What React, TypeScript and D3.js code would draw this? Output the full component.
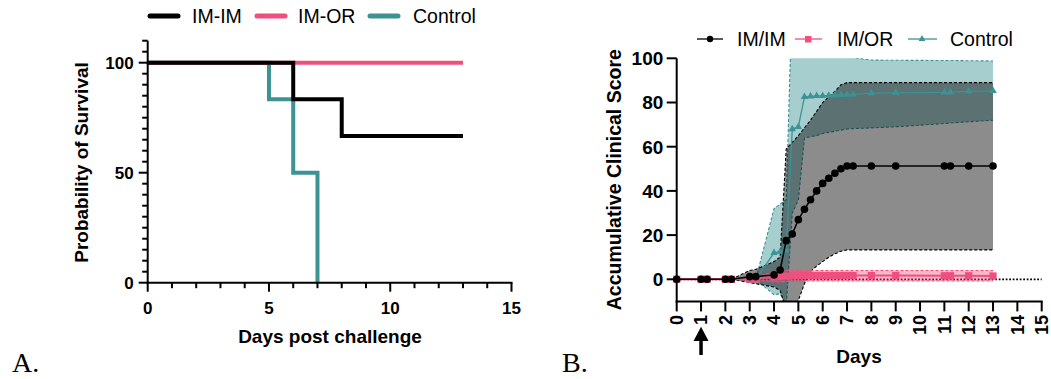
import React from 'react';
import * as d3 from 'd3';

// ---------- Panel A: survival ----------
const survLabels = ['IM-IM', 'IM-OR', 'Control'];
const survImImDays = [0, 6, 8, 13];
const survImImPct = [100, 83.33, 66.67, 66.67];
const survImOrDays = [0, 13];
const survImOrPct = [100, 100];
const survCtrlDays = [0, 5, 6, 7];
const survCtrlPct = [100, 83.33, 50, 0];
const survXTicks = [0, 5, 10, 15];
const survYTicks = [0, 50, 100];

// ---------- Panel B: clinical score ----------
const scoreLabels = ['IM/IM', 'IM/OR', 'Control'];
const days = [0, 1, 1.25, 2, 2.25, 3, 3.25, 4, 4.25, 4.5, 4.75, 5, 5.25, 5.5, 5.75, 6, 6.25, 6.5, 6.75, 7, 7.25, 8, 9, 11, 11.25, 12, 13];
const imImMean = [0, 0, 0, 0, 0, 1.2, 1.2, 2, 4.2, 17.5, 20.5, 27, 31.7, 36, 40, 43.4, 45.7, 48, 50, 51.3, 51.3, 51.3, 51.3, 51.3, 51.3, 51.3, 51.3];
const imImUpper = [0, 0, 0, 0, 0, 4, 4.5, 8, 10, 59, 62, 65, 68.5, 72, 76, 80, 82.5, 85, 88, 89, 89, 89, 89, 89, 89, 89, 89];
const imImLower = [0, 0, 0, 0, 0, -1.5, -2, -3.5, -5, -14, -14, -9.5, -2, 3.5, 6, 8, 10, 11.5, 12.7, 13.3, 13.3, 13.3, 13.3, 13.3, 13.3, 13.3, 13.3];
const imOrMean = [0, 0, 0, 0, 0, 0, 0.3, 1, 1.2, 1.4, 1.5, 1.6, 1.7, 1.7, 1.7, 1.7, 1.7, 1.7, 1.7, 1.7, 1.7, 1.7, 1.7, 1.6, 1.6, 1.6, 1.5];
const imOrUpper = [0, 0, 0, 0, 0, 0, 1, 3.5, 3.8, 4, 4, 4, 4, 4, 4, 4, 4, 4, 4, 4, 4, 4, 4, 4, 4, 4, 4];
const imOrLower = [0, 0, 0, 0, 0, 0, -0.4, -1.2, -1.2, -1, -1, -0.9, -0.8, -0.8, -0.8, -0.8, -0.8, -0.8, -0.8, -0.8, -0.8, -0.8, -0.8, -0.8, -0.8, -0.8, -0.8];
const ctrlMean = [0, 0, 0, 0, 0, 0, 0, 12, 12.5, 13, 68, 69, 82.6, 82.8, 83, 83, 83.2, 83.4, 83.5, 83.6, 83.7, 84.2, 84.4, 84.6, 84.7, 85, 85.3];
const ctrlUpper = [0, 0, 0, 0, 0, 0, 0, 32, 34, 36, 130, 102, 101, 101, 101, 101, 101, 101, 101, 100.5, 100.3, 99.2, 99.1, 99, 99, 98.9, 98.8];
const ctrlLower = [0, 0, 0, 0, 0, 0, 0, -7, -6.5, -12, 30, 36, 64, 64.6, 65, 66, 66.5, 67, 67.5, 68, 68.2, 68.5, 69, 70.5, 70.7, 71.3, 72];
const scoreYTicks = [0, 20, 40, 60, 80, 100];
const scoreXTicks = d3.range(0, 16);
const arrowDay = 1;

const BLACK = '#000000';
const PINK = '#EF4F7E';
const TEAL = '#3C9294';
const SANS = '"Liberation Sans", Arial, Helvetica, sans-serif';
const SERIF = '"Liberation Serif", "Times New Roman", serif';

type Pt = { t: number; v: number };
const zip = (ts: number[], vs: number[]): Pt[] => ts.map((t, i) => ({ t, v: vs[i] }));
type Band = { t: number; lo: number; hi: number };
const band = (lo: number[], hi: number[]): Band[] => days.map((t, i) => ({ t, lo: lo[i], hi: hi[i] }));

const SurvivalPanel: React.FC = () => {
  const x = d3.scaleLinear().domain([0, 15]).range([147.7, 511.5]);
  const y = d3.scaleLinear().domain([0, 110]).range([282.7, 40.7]);
  const step = d3.line<Pt>().x(d => x(d.t)).y(d => y(d.v)).curve(d3.curveStepAfter);
  const series = [
    { name: survLabels[2], color: TEAL, pts: zip(survCtrlDays, survCtrlPct) },
    { name: survLabels[1], color: PINK, pts: zip(survImOrDays, survImOrPct) },
    { name: survLabels[0], color: BLACK, pts: zip(survImImDays, survImImPct) },
  ];
  const minorY = d3.range(0, 111, 5).filter(v => !survYTicks.includes(v));
  const minorX = d3.range(0, 16, 1).filter(v => !survXTicks.includes(v));
  const legend = [
    { name: survLabels[0], color: BLACK, x0: 150, tx: 192 },
    { name: survLabels[1], color: PINK, x0: 257, tx: 298 },
    { name: survLabels[2], color: TEAL, x0: 370, tx: 413 },
  ];
  return (
    <g fontFamily={SANS}>
      {legend.map(l => (
        <g key={l.name}>
          <line x1={l.x0} x2={l.x0 + 28} y1={16} y2={16} stroke={l.color} strokeWidth={5} strokeLinecap="round" />
          <text x={l.tx} y={23} fontSize={19.5}>{l.name}</text>
        </g>
      ))}
      {series.map(s => (
        <path key={s.name} d={step(s.pts) || ''} fill="none" stroke={s.color} strokeWidth={4} strokeLinejoin="miter" />
      ))}
      {/* axes */}
      <line x1={x(0)} x2={x(0)} y1={y(0) + 1} y2={y(110)} stroke={BLACK} strokeWidth={2} />
      <line x1={x(0) - 1} x2={x(15) + 1} y1={y(0)} y2={y(0)} stroke={BLACK} strokeWidth={2} />
      {survYTicks.map(v => (
        <g key={'ym' + v}>
          <line x1={x(0) - 9} x2={x(0)} y1={y(v)} y2={y(v)} stroke={BLACK} strokeWidth={2} />
          <text x={x(0) - 14} y={y(v)} dy="0.36em" textAnchor="end" fontSize={17} fontWeight="bold">{v}</text>
        </g>
      ))}
      {minorY.map(v => (
        <line key={'yn' + v} x1={x(0) - 5.5} x2={x(0)} y1={y(v)} y2={y(v)} stroke={BLACK} strokeWidth={2} />
      ))}
      {survXTicks.map(v => (
        <g key={'xm' + v}>
          <line x1={x(v)} x2={x(v)} y1={y(0)} y2={y(0) + 9} stroke={BLACK} strokeWidth={2} />
          <text x={x(v)} y={314} textAnchor="middle" fontSize={17} fontWeight="bold">{v}</text>
        </g>
      ))}
      {minorX.map(v => (
        <line key={'xn' + v} x1={x(v)} x2={x(v)} y1={y(0)} y2={y(0) + 5.5} stroke={BLACK} strokeWidth={2} />
      ))}
      <text x={330} y={343} textAnchor="middle" fontSize={19} fontWeight="bold">Days post challenge</text>
      <text transform="translate(88,162.5) rotate(-90)" textAnchor="middle" fontSize={19} fontWeight="bold">Probability of Survival</text>
      <text x={12} y={372} fontFamily={SERIF} fontSize={28}>A.</text>
    </g>
  );
};

const ScorePanel: React.FC = () => {
  const x = d3.scaleLinear().domain([0, 15]).range([676.7, 1041.7]);
  const y = d3.scaleLinear().domain([-10, 100]).range([301.4, 58.3]);
  const area = d3.area<Band>().x(d => x(d.t)).y0(d => y(d.lo)).y1(d => y(d.hi));
  const lo = d3.line<Band>().x(d => x(d.t)).y(d => y(d.lo));
  const hi = d3.line<Band>().x(d => x(d.t)).y(d => y(d.hi));
  const mean = d3.line<Pt>().x(d => x(d.t)).y(d => y(d.v));
  const tri = d3.symbol(d3.symbolTriangle, 24);
  const tri2 = d3.symbol(d3.symbolTriangle, 20);

  const bands = [
    { key: 'ctrl', data: band(ctrlLower, ctrlUpper), fill: 'rgba(60,146,148,0.45)', edge: TEAL },
    { key: 'imim', data: band(imImLower, imImUpper), fill: 'rgba(0,0,0,0.45)', edge: BLACK },
    { key: 'imor', data: band(imOrLower, imOrUpper), fill: 'rgba(239,79,126,0.4)', edge: PINK },
  ];
  const ctrl = zip(days, ctrlMean);
  const imor = zip(days, imOrMean);
  const imim = zip(days, imImMean);

  return (
    <g fontFamily={SANS}>
      <defs>
        <clipPath id="plotB">
          <rect x={x(0)} y={y(100)} width={x(15) - x(0)} height={y(-10) - y(100)} />
        </clipPath>
      </defs>
      {/* zero reference */}
      <line x1={x(0)} x2={x(15)} y1={y(0)} y2={y(0)} stroke={BLACK} strokeWidth={1.8} strokeDasharray="1.8 1.7" />
      <g clipPath="url(#plotB)">
        {bands.map(b => (
          <g key={b.key}>
            <path d={area(b.data) || ''} fill={b.fill} stroke="none" />
            <path d={hi(b.data) || ''} fill="none" stroke={b.edge} strokeWidth={1.1} strokeDasharray="3 2" />
            <path d={lo(b.data) || ''} fill="none" stroke={b.edge} strokeWidth={1.1} strokeDasharray="3 2" />
          </g>
        ))}
      </g>
      {/* control */}
      <path d={mean(ctrl) || ''} fill="none" stroke={TEAL} strokeWidth={1.3} />
      {ctrl.map((d, i) => (
        <path key={'c' + i} d={tri() || ''} transform={`translate(${x(d.t)},${y(d.v)})`} fill={TEAL} />
      ))}
      {/* IM/OR */}
      <path d={mean(imor) || ''} fill="none" stroke={PINK} strokeWidth={2} />
      {imor.map((d, i) => (
        <rect key={'p' + i} x={x(d.t) - 3.6} y={y(d.v) - 3.6} width={7.2} height={7.2} fill={PINK} />
      ))}
      {/* IM/IM */}
      <path d={mean(imim) || ''} fill="none" stroke={BLACK} strokeWidth={1.5} />
      {imim.map((d, i) => (
        <circle key={'b' + i} cx={x(d.t)} cy={y(d.v)} r={3.8} fill={BLACK} />
      ))}
      {/* axes */}
      <line x1={x(0)} x2={x(0)} y1={y(-10) + 1} y2={y(100)} stroke={BLACK} strokeWidth={2} />
      <line x1={x(0) - 1} x2={x(15) + 1} y1={y(-10)} y2={y(-10)} stroke={BLACK} strokeWidth={2} />
      {scoreYTicks.map(v => (
        <g key={'y' + v}>
          <line x1={x(0) - 10} x2={x(0)} y1={y(v)} y2={y(v)} stroke={BLACK} strokeWidth={2} />
          <text x={663.3} y={y(v)} dy="0.36em" textAnchor="end" fontSize={19} fontWeight="bold">{v}</text>
        </g>
      ))}
      {scoreXTicks.map(v => (
        <g key={'x' + v}>
          <line x1={x(v)} x2={x(v)} y1={y(-10)} y2={y(-10) + 10} stroke={BLACK} strokeWidth={2} />
          <text transform={`translate(${x(v)},315) rotate(-90)`} dy="0.35em" textAnchor="end" fontSize={18} fontWeight="bold">{v}</text>
        </g>
      ))}
      <text x={859} y={362.5} textAnchor="middle" fontSize={19} fontWeight="bold">Days</text>
      <text transform="translate(620.5,179.7) rotate(-90)" textAnchor="middle" fontSize={19.5} fontWeight="bold">Accumulative Clinical Score</text>
      {/* challenge arrow */}
      <g transform={`translate(${x(arrowDay)},0)`}>
        <line x1={0} x2={0} y1={338} y2={355} stroke={BLACK} strokeWidth={3.5} />
        <path d="M0,326.7 L7.5,341 L-7.5,341 Z" fill={BLACK} />
      </g>
      {/* legend */}
      <g>
        <line x1={697} x2={723} y1={39} y2={39} stroke={BLACK} strokeWidth={1.3} />
        <circle cx={710} cy={39} r={3.2} fill={BLACK} />
        <text x={737} y={46} fontSize={19.5}>{scoreLabels[0]}</text>
        <line x1={795} x2={822} y1={39} y2={39} stroke={PINK} strokeWidth={1.3} />
        <rect x={805} y={36} width={6.5} height={6.5} fill={PINK} />
        <text x={837} y={46} fontSize={19.5}>{scoreLabels[1]}</text>
        <line x1={908} x2={937} y1={39} y2={39} stroke={TEAL} strokeWidth={1.3} />
        <path d={tri2() || ''} transform="translate(922,39)" fill={TEAL} />
        <text x={950} y={46} fontSize={19.5}>{scoreLabels[2]}</text>
      </g>
      <text x={562} y={372} fontFamily={SERIF} fontSize={28}>B.</text>
    </g>
  );
};

export default function App() {
  return (
    <svg width={1051} height={379} style={{ position: 'absolute', left: 0, top: 0, background: '#fff' }}>
      <rect width={1051} height={379} fill="#fff" />
      <SurvivalPanel />
      <ScorePanel />
    </svg>
  );
}
